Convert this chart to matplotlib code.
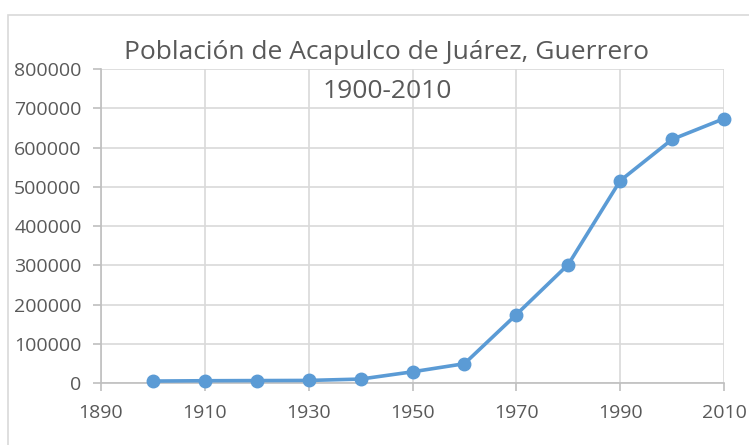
import matplotlib
matplotlib.use("Agg")
from matplotlib import pyplot as plt
from matplotlib.patches import Rectangle

# datos de poblacion (hab.)
anios = [1900, 1910, 1920, 1930, 1940, 1950, 1960, 1970, 1980, 1990, 2000, 2010]
poblacion = [4932, 5768, 6150, 6529, 9993, 28512, 49149, 174378, 301902, 515374, 620656, 673479]

titulo = "Población de Acapulco de Juárez, Guerrero\n1900-2010"
x_ticks = [1890, 1910, 1930, 1950, 1970, 1990, 2010]
y_ticks = [0, 100000, 200000, 300000, 400000, 500000, 600000, 700000, 800000]

plt.rcParams['font.family'] = ['Open Sans', 'DejaVu Sans']

fig = plt.figure(figsize=(7.49, 4.45), dpi=100)

# marco del grafico
fig.patches.append(Rectangle((8/749, -0.1), 1.2, 1.1 - 15/445, transform=fig.transFigure,
                             fill=False, edgecolor='#d9d9d9', linewidth=1.2))

ax = fig.add_axes([101/749, 1 - 383/445, (724 - 101)/749, (383 - 69)/445])
ax.plot(anios, poblacion, color='#5b9bd5', linewidth=2.6, marker='o', markersize=9, zorder=3,
        clip_on=False)

ax.set_xlim(1890, 2010)
ax.set_ylim(0, 800000)
ax.set_xticks(x_ticks)
ax.set_yticks(y_ticks)
ax.grid(True, color='#d9d9d9', linewidth=1.2)
ax.set_axisbelow(True)

for s in ['top', 'right']:
    ax.spines[s].set_visible(False)
for s in ['left', 'bottom']:
    ax.spines[s].set_color('#bfbfbf')
    ax.spines[s].set_linewidth(1.2)

ax.tick_params(axis='both', colors='#bfbfbf', labelcolor='#595959', labelsize=14, length=6, width=1.2)
ax.tick_params(axis='x', pad=9)
ax.tick_params(axis='y', pad=8)

fig.text(387/749, 1 - 72/445, titulo, ha='center', va='center', fontsize=19, color='#595959',
         linespacing=1.75)

fig.savefig("out.png", dpi=100)
